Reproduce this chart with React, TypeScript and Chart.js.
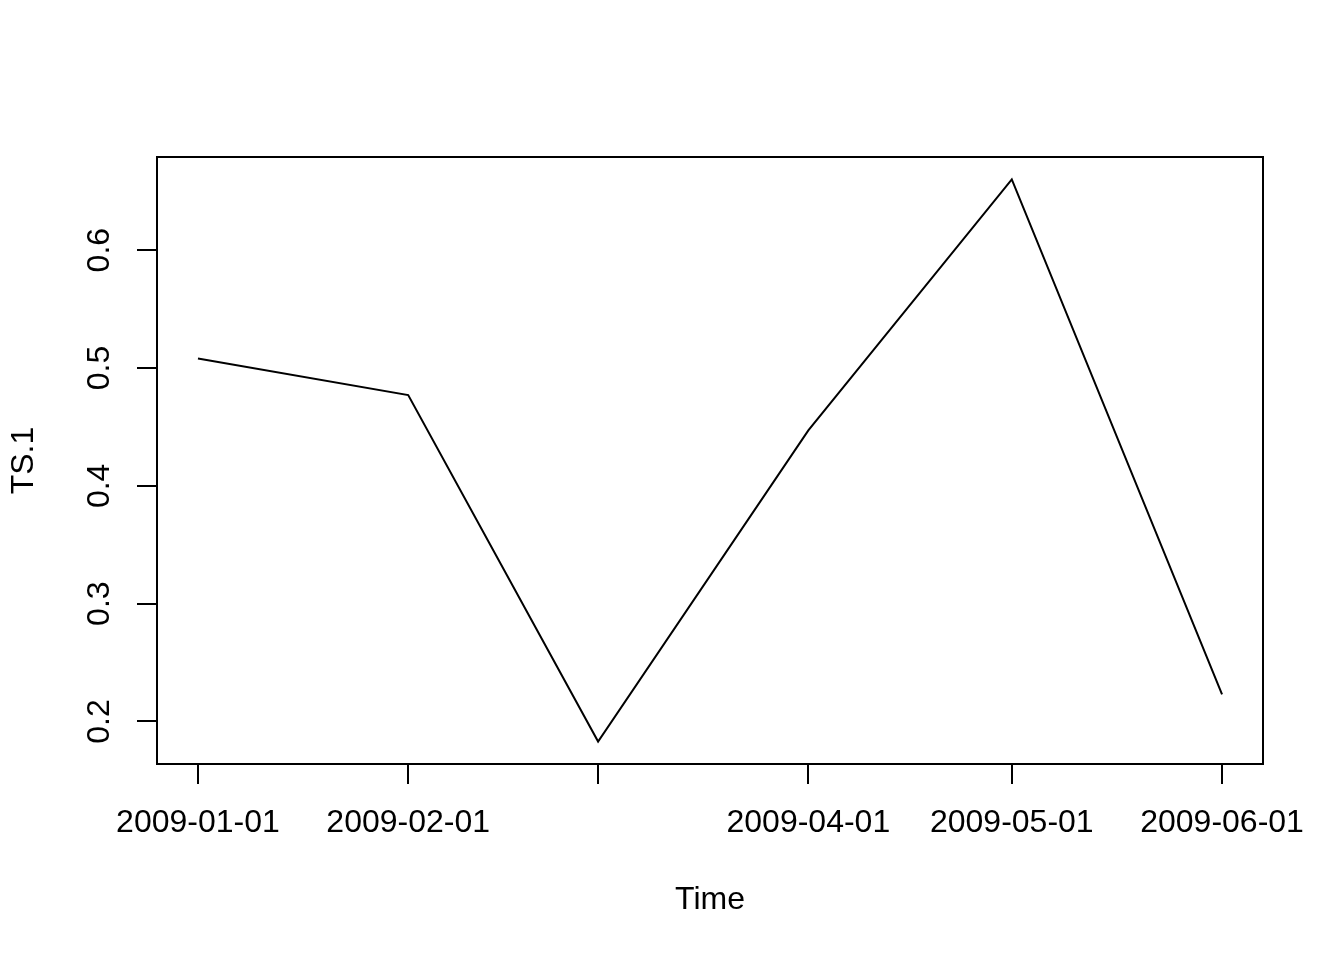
import React, { useEffect, useRef } from "react";
import { Chart, registerables } from "chart.js";

Chart.register(...registerables);

// ---- data ----
const dates: string[] = ["2009-01-01", "2009-02-01", "2009-03-01", "2009-04-01", "2009-05-01", "2009-06-01"];
const values: number[] = [0.508, 0.477, 0.183, 0.447, 0.66, 0.223];
const yTicks: number[] = [0.2, 0.3, 0.4, 0.5, 0.6];
// R drops the 2009-03-01 label because it would overlap its neighbours
const xTickLabels: string[] = ["2009-01-01", "2009-02-01", "", "2009-04-01", "2009-05-01", "2009-06-01"];
const xTitle = "Time";
const yTitle = "TS.1";

const FONT_FAMILY = '"Liberation Sans", Arial, Helvetica, sans-serif';
const FONT_SIZE = 32;

function dayOffset(s: string): number {
  const [y, m, d] = s.split("-").map(Number);
  return (Date.UTC(y, m - 1, d) - Date.UTC(2009, 0, 1)) / 86400000;
}

export default function App() {
  const ref = useRef<HTMLCanvasElement | null>(null);

  useEffect(() => {
    document.body.style.margin = "0";
    const canvas = ref.current;
    if (!canvas) return;

    const xs = dates.map(dayOffset);
    const xr = xs[xs.length - 1] - xs[0];
    const xMin = xs[0] - 0.04 * xr;
    const xMax = xs[xs.length - 1] + 0.04 * xr;
    const vMin = Math.min(...values);
    const vMax = Math.max(...values);
    const yr = vMax - vMin;
    const yMin = vMin - 0.04 * yr;
    const yMax = vMax + 0.04 * yr;

    const framePlugin = {
      id: "rframe",
      afterDraw(chart: any) {
        const { ctx, chartArea } = chart;
        const { left, top, right, bottom } = chartArea;
        ctx.save();
        ctx.strokeStyle = "#000";
        ctx.lineWidth = 2;
        ctx.strokeRect(left, top, right - left, bottom - top);
        const ys = chart.scales.y;
        ctx.font = `${FONT_SIZE}px ${FONT_FAMILY}`;
        ctx.fillStyle = "#000";
        ctx.textAlign = "center";
        ctx.textBaseline = "middle";
        for (const v of yTicks) {
          const py = ys.getPixelForValue(v);
          ctx.save();
          ctx.translate(ys.right - 57, py);
          ctx.rotate(-Math.PI / 2);
          ctx.fillText(v.toFixed(1), 0, 0);
          ctx.restore();
        }
        ctx.restore();
      },
    };

    const chart = new Chart(canvas, {
      type: "line",
      data: {
        datasets: [
          {
            data: xs.map((x, i) => ({ x, y: values[i] })),
            borderColor: "#000",
            borderWidth: 2,
            pointRadius: 0,
            fill: false,
            tension: 0,
          },
        ],
      },
      options: {
        animation: false,
        responsive: false,
        devicePixelRatio: 1,
        layout: { padding: { top: 157, right: 81, left: 0, bottom: 0 } },
        plugins: {
          legend: { display: false },
          tooltip: { enabled: false },
        },
        scales: {
          x: {
            type: "linear",
            min: xMin,
            max: xMax,
            afterBuildTicks: (s: any) => {
              s.ticks = xs.map((v) => ({ value: v }));
            },
            afterFit: (s: any) => {
              s.height = 196;
            },
            grid: {
              display: true,
              drawOnChartArea: false,
              drawTicks: true,
              tickLength: 20,
              color: "#000",
              lineWidth: 2,
            },
            border: { display: false },
            ticks: {
              autoSkip: false,
              maxRotation: 0,
              minRotation: 0,
              padding: 20,
              color: "#000",
              font: { family: FONT_FAMILY, size: FONT_SIZE },
              callback: (_v: any, i: number) => xTickLabels[i],
            },
            title: {
              display: true,
              text: xTitle,
              color: "#000",
              font: { family: FONT_FAMILY, size: FONT_SIZE },
              padding: { top: 0, bottom: 41 },
            },
          },
          y: {
            type: "linear",
            min: yMin,
            max: yMax,
            afterBuildTicks: (s: any) => {
              s.ticks = yTicks.map((v) => ({ value: v }));
            },
            afterFit: (s: any) => {
              s.width = 157;
            },
            grid: {
              display: true,
              drawOnChartArea: false,
              drawTicks: true,
              tickLength: 20,
              color: "#000",
              lineWidth: 2,
            },
            border: { display: false },
            ticks: { display: false },
            title: {
              display: true,
              text: yTitle,
              color: "#000",
              font: { family: FONT_FAMILY, size: FONT_SIZE },
              padding: { top: 5, bottom: 0 },
            },
          },
        },
      },
      plugins: [framePlugin],
    });

    return () => chart.destroy();
  }, []);

  return (
    <div style={{ width: 1344, height: 960, background: "#fff" }}>
      <canvas ref={ref} width={1344} height={960} />
    </div>
  );
}
